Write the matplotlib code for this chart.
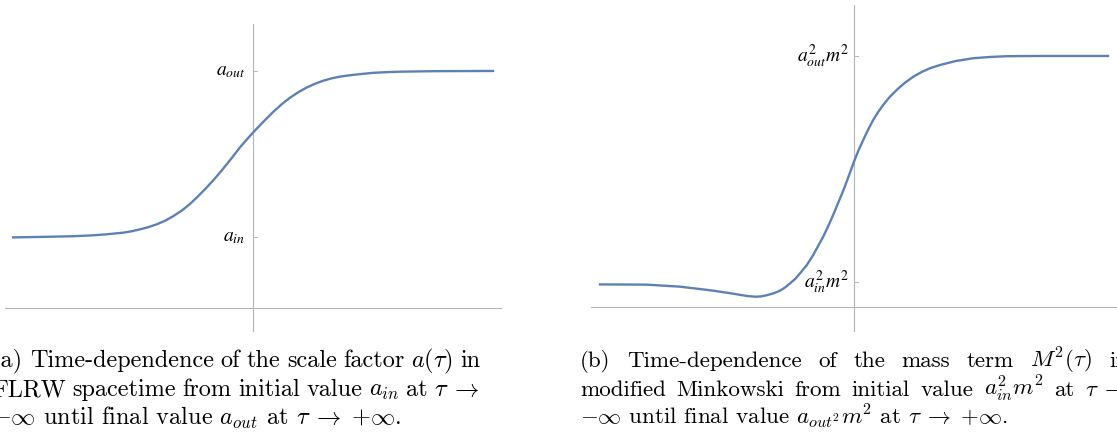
import matplotlib
matplotlib.use("Agg")
import matplotlib.pyplot as plt

W, H = 1117, 436
blue = "#5e81b5"
grey = "#b4b4b4"

# (a) scale factor a(tau)
tau_a = [-6.0, -5.0, -4.5, -4.075, -3.66, -3.24, -3.03, -2.825, -2.62, -2.41,
         -2.2, -1.99, -1.78, -1.575, -1.37, -1.16, -0.95, -0.74, -0.53, -0.325,
         -0.16, 0.0, 0.26, 0.51, 0.72, 0.925, 1.13, 1.34, 1.55, 1.76,
         1.97, 2.175, 2.425, 2.7, 3.0, 3.35, 3.7, 4.5, 6.0]
a_vals = [0.298, 0.301, 0.303, 0.306, 0.311, 0.318, 0.324, 0.332, 0.341, 0.353,
          0.368, 0.388, 0.411, 0.439, 0.472, 0.508, 0.547, 0.589, 0.633, 0.678,
          0.710, 0.740, 0.786, 0.828, 0.860, 0.887, 0.910, 0.930, 0.946, 0.959,
          0.969, 0.976, 0.982, 0.987, 0.992, 0.995, 0.997, 0.999, 1.0]
a_ticks = [0.3, 1.0]
a_labels = [r"$a_{in}$", r"$a_{out}$"]

# (b) mass term M^2(tau)
tau_m = [-6.35, -5.18, -4.35, -3.93, -3.52, -3.1, -2.68, -2.475, -2.33, -2.18,
         -2.0, -1.85, -1.72, -1.6, -1.47, -1.35, -1.18, -1.02, -0.9, -0.77,
         -0.645, -0.52, -0.395, -0.27, -0.135, 0.0, 0.115, 0.23, 0.355, 0.48,
         0.605, 0.73, 0.9, 1.07, 1.27, 1.48, 1.69, 1.9, 2.15, 2.55,
         2.98, 3.4, 3.82, 4.65, 6.35]
m_vals = [0.090, 0.089, 0.081, 0.073, 0.065, 0.055, 0.044, 0.041, 0.042, 0.047,
          0.055, 0.065, 0.078, 0.094, 0.112, 0.134, 0.167, 0.207, 0.242, 0.280,
          0.322, 0.367, 0.415, 0.463, 0.520, 0.579, 0.625, 0.665, 0.707, 0.745,
          0.777, 0.805, 0.838, 0.865, 0.893, 0.917, 0.936, 0.951, 0.964, 0.980,
          0.991, 0.996, 0.999, 1.0, 1.0]
m_ticks = [0.1, 1.0]
m_labels = [r"$a_{in}^2m^2$", r"$a_{out}^2m^2$"]

cap_a = [["(a)", "Time-dependence", "of", "the", "scale", "factor", r"$a(\tau)$", "in"],
         ["FLRW", "spacetime", "from", "initial", "value", r"$a_{in}$", "at", r"$\tau\;\rightarrow$"],
         r"$-\infty$ until final value $a_{out}$ at $\tau\;\rightarrow\;{+}\infty$."]
cap_b = [["(b)", "Time-dependence", "of", "the", "mass", "term", r"$M^2(\tau)$", "in"],
         ["modified", "Minkowski", "from", "initial", "value", r"$a_{in}^2m^2$", "at", r"$\tau\;\rightarrow$"],
         r"$-\infty$ until final value $a_{out^2}m^2$ at $\tau\;\rightarrow\;{+}\infty$."]

fig = plt.figure(figsize=(W / 100, H / 100), dpi=100)


def px_axes(x0, y0, x1, y1):
    return fig.add_axes([x0 / W, 1 - y1 / H, (x1 - x0) / W, (y1 - y0) / H])


def panel(ax, xs, ys, ticks, labels, xlim, ylim, gap):
    ax.set_xlim(*xlim)
    ax.set_ylim(*ylim)
    ax.axis("off")
    ax.axhline(0, color=grey, lw=0.8)
    ax.axvline(0, color=grey, lw=0.8)
    for v, lab in zip(ticks, labels):
        ax.plot([0, 0.09], [v, v], color=grey, lw=0.7)
        ax.text(-gap, v, lab, ha="right", va="center", fontsize=14,
                math_fontfamily="stix")
    ax.plot(xs, ys, color=blue, lw=1.7, solid_joinstyle="round")


ax1 = px_axes(5, 24, 502, 332)
panel(ax1, tau_a, a_vals, a_ticks, a_labels, (-6.2, 6.225), (-0.101, 1.198), 0.2)

ax2 = px_axes(591, 5, 1117, 332)
panel(ax2, tau_m, m_vals, m_ticks, m_labels, (-6.575, 6.575), (-0.0996, 1.203), 0.12)

renderer = fig.canvas.get_renderer()


def caption_kw(fs):
    return dict(fontsize=fs, family="cmr10", math_fontfamily="cm", va="baseline")


def justified(tokens, x0, x1, y, fs):
    ts = [fig.text(0, 1 - y / H, tok, **caption_kw(fs)) for tok in tokens]
    widths = [t.get_window_extent(renderer=renderer).width for t in ts]
    gap = (x1 - x0 - sum(widths)) / (len(ts) - 1)
    x = x0
    for t, w in zip(ts, widths):
        t.set_x(x / W)
        x += w + gap


baselines = [367, 396, 425]
for cap, x0, x1, fs in [(cap_a, -8, 480, 17.5), (cap_b, 580, 1128, 16.6)]:
    justified(cap[0], x0, x1, baselines[0], fs)
    justified(cap[1], x0, x1, baselines[1], fs)
    fig.text(x0 / W, 1 - baselines[2] / H, cap[2], **caption_kw(fs))

fig.savefig("out.png", dpi=100)
